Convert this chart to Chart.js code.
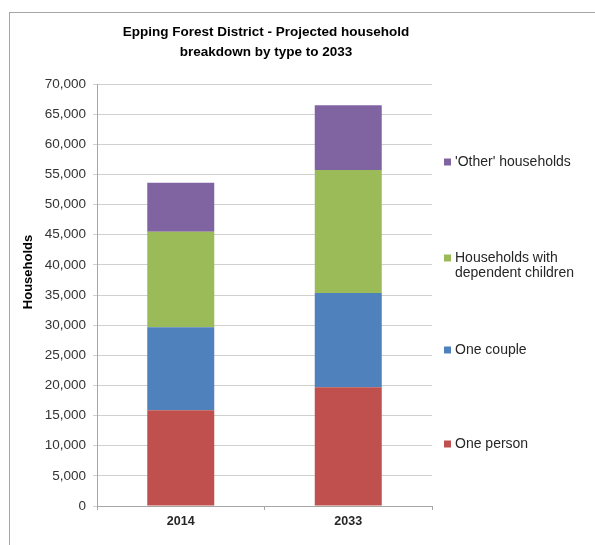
<!DOCTYPE html>
<html>
<head>
<meta charset="utf-8">
<script src="https://cdn.jsdelivr.net/npm/chart.js@4"></script>
<style>
    html, body { margin: 0; padding: 0; background: #fff; }
    #wrap { position: relative; width: 595px; height: 545px; overflow: hidden; }
    #frame { position: absolute; left: 9px; top: 12px; width: 640px; height: 600px; border: 1px solid #a6a6a6; }
    canvas { position: absolute; left: 0; top: 0; }
</style>
</head>
<body>
<div id="wrap">
    <div id="frame"></div>
    <canvas id="chart" width="595" height="545"></canvas>
</div>
<script>
// values
const years = ["2014", "2033"];
const onePerson = [15870, 19690];
const oneCouple = [13770, 15640];
const withChildren = [15860, 20410];
const otherHouseholds = [8130, 10730];
const seriesNames = ["One person", "One couple", "Households with dependent children", "'Other' households"];
const legendLines = [["One person"], ["One couple"], ["Households with", "dependent children"], ["'Other' households"]];
const titleLines = ["Epping Forest District - Projected household", "breakdown by type to 2033"];
const yTitle = "Households";

const FONT = "'Liberation Sans', Arial, sans-serif";

// legend on the right, title and y title, drawn the way Excel laid them out
const legendY = [444, 350, 258, 162];
const extras = {
    id: "extras",
    afterDraw(chart) {
        const ctx = chart.ctx;
        ctx.save();
        ctx.textBaseline = "middle";

        ctx.font = "14px " + FONT;
        chart.data.datasets.forEach((ds, i) => {
            const y = legendY[i];
            ctx.fillStyle = ds.backgroundColor;
            ctx.fillRect(444, y - 3.5, 7, 7);
            ctx.fillStyle = "#262626";
            ctx.textAlign = "left";
            legendLines[i].forEach((t, j) => ctx.fillText(t, 455, y + j * 15));
        });

        ctx.fillStyle = "#000";
        ctx.textAlign = "center";
        ctx.font = "bold 13.5px " + FONT;
        titleLines.forEach((t, j) => ctx.fillText(t, 266, 32 + j * 20));

        ctx.font = "bold 13px " + FONT;
        ctx.translate(28, 272);
        ctx.rotate(-Math.PI / 2);
        ctx.fillText(yTitle, 0, 0);
        ctx.restore();
    }
};

const colors = ["#C0504D", "#4F81BD", "#9BBB59", "#8064A2"];
const values = [onePerson, oneCouple, withChildren, otherHouseholds];

new Chart(document.getElementById("chart"), {
    type: "bar",
    data: {
        labels: years,
        datasets: values.map((v, i) => ({
            label: seriesNames[i],
            data: v,
            backgroundColor: colors[i],
            borderWidth: 0,
            barPercentage: 0.4,
            categoryPercentage: 1,
        })),
    },
    options: {
        responsive: false,
        animation: false,
        layout: { padding: { top: 84, right: 163, bottom: 9, left: 0 } },
        plugins: {
            legend: { display: false },
            title: { display: false },
            tooltip: { enabled: false },
        },
        scales: {
            x: {
                stacked: true,
                afterFit(scale) { scale.height = 30; },
                grid: { drawOnChartArea: false, offset: true, tickLength: 4, color: "#a6a6a6" },
                border: { color: "#a6a6a6" },
                ticks: { padding: 4, color: "#262626", font: { family: FONT, size: 12.5, weight: "bold" } },
            },
            y: {
                stacked: true,
                min: 0,
                max: 70000,
                afterFit(scale) { scale.width = 97; },
                grid: { color: "#d0d0d0", tickLength: 4 },
                border: { color: "#a6a6a6" },
                ticks: {
                    stepSize: 5000,
                    padding: 7,
                    color: "#333",
                    font: { family: FONT, size: 13.5 },
                    callback: (v) => v.toLocaleString("en-US"),
                },
            },
        },
    },
    plugins: [extras],
});
</script>
</body>
</html>
